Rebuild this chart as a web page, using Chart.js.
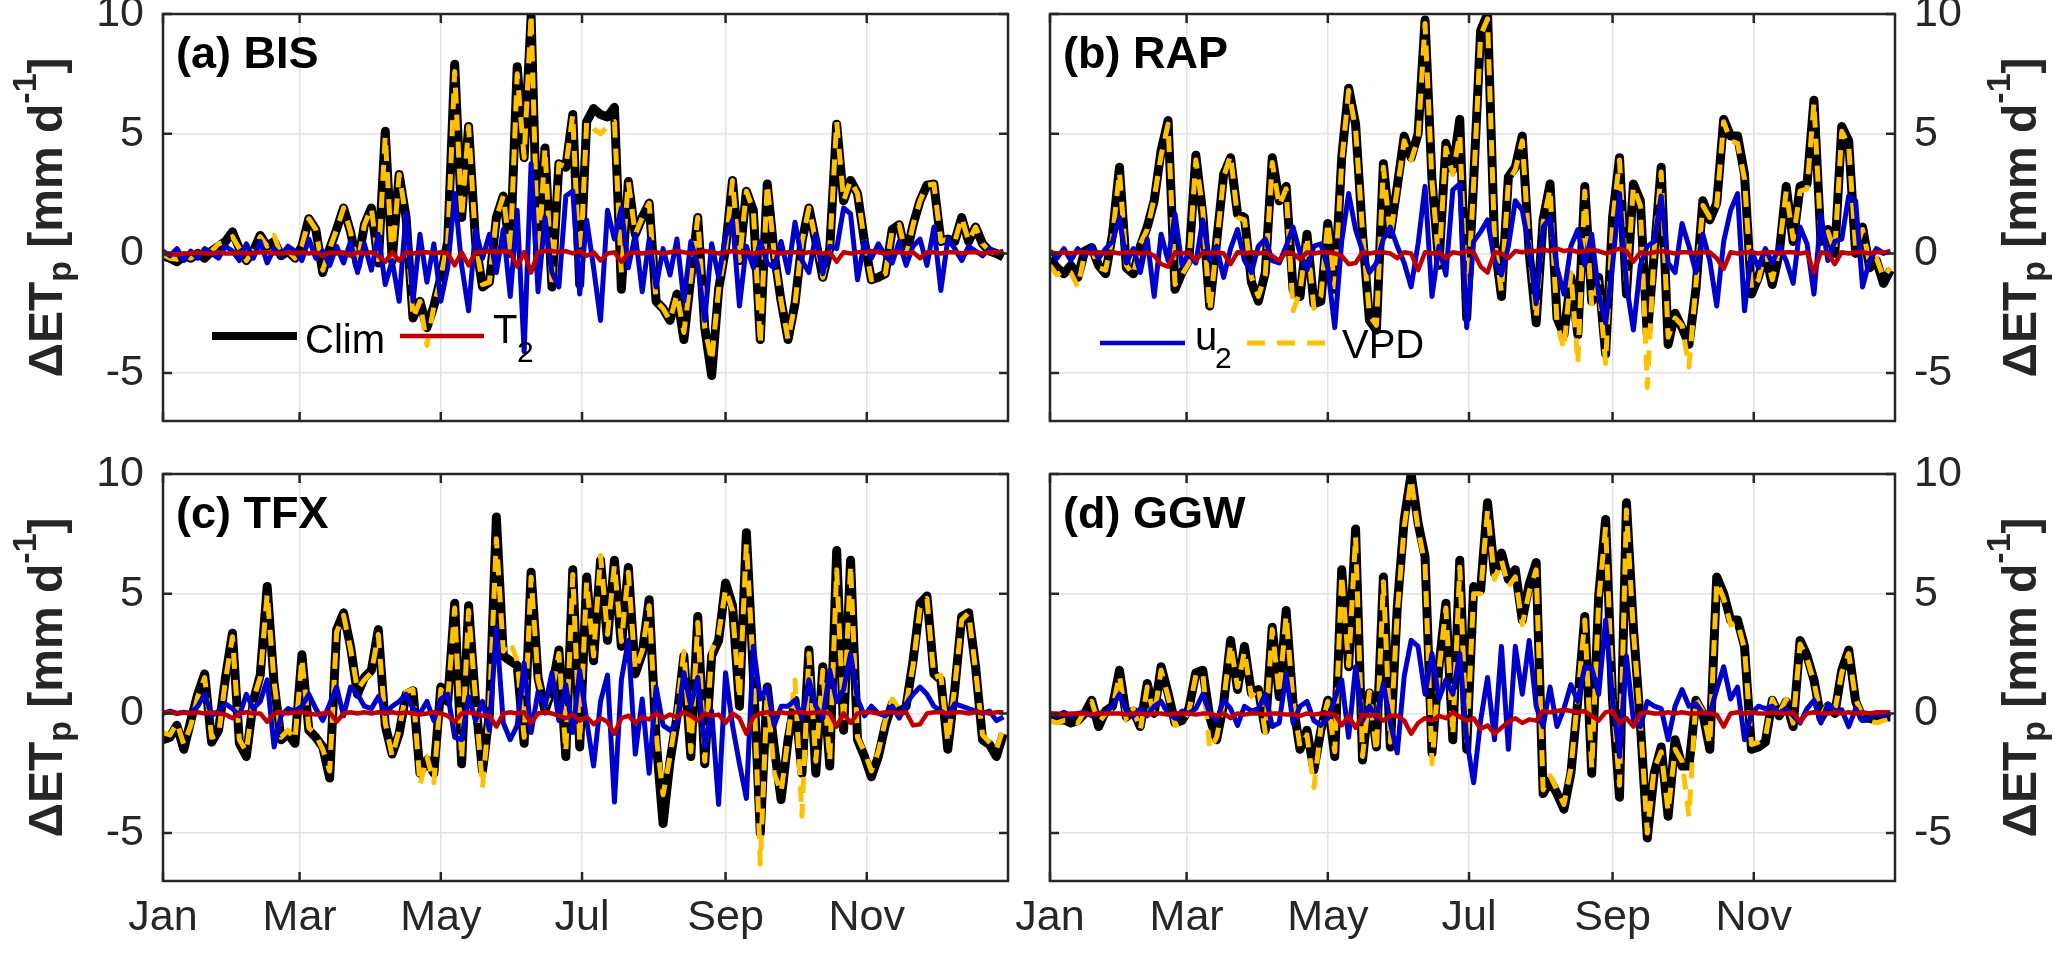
<!DOCTYPE html>
<html>
<head>
<meta charset="utf-8">
<script src="https://cdn.jsdelivr.net/npm/chart.js@4"></script>
<style>
  html, body { margin: 0; padding: 0; background: #fff; }
  #wrap { position: relative; width: 2067px; height: 953px; }
  #wrap canvas { position: absolute; left: 0; top: 0; }
</style>
</head>
<body>
<div id="wrap">
  <canvas id="panel-a" width="2067" height="953"></canvas>
  <canvas id="panel-b" width="2067" height="953"></canvas>
  <canvas id="panel-c" width="2067" height="953"></canvas>
  <canvas id="panel-d" width="2067" height="953"></canvas>
</div>
<script>
// one sample every STEP days, starting 1 Jan
const STEP = 3;
const monthTicks = [0, 59, 120, 181, 243, 304];
const monthLabels = ['Jan', 'Mar', 'May', 'Jul', 'Sep', 'Nov'];
const yTicks = [-5, 0, 5, 10];

// (a) BIS
const bisClim = [
  -0.1,-0.2,-0.35,-0.1,-0.2,0.0,-0.2,0.1,0.3,0.5,
  0.9,0.2,-0.3,0.1,0.75,0.3,0.5,-0.1,0.1,-0.2,
  0.3,1.45,1.0,-0.8,0.2,1.0,1.9,0.9,-0.5,1.2,
  1.9,-0.4,5.1,-0.3,3.3,1.5,-2.7,-2.0,-3.1,-2.2,
  -1.0,0.5,7.9,1.5,5.3,0.5,-1.4,-1.2,1.5,2.4,
  0.0,7.8,4.0,9.9,-0.6,4.4,-1.4,3.75,3.6,5.8,
  -1.3,5.5,6.05,5.8,5.7,6.1,-1.5,3.0,0.8,1.5,
  2.1,-2.0,-2.3,-2.8,-1.7,-3.6,-1.0,1.5,-3.1,-5.1,
  -1.5,0.2,3.05,-0.3,2.6,1.8,-3.6,2.9,0.0,-2.0,
  -3.6,-2.1,0.5,1.9,0.5,-1.0,0.2,5.4,2.2,3.05,
  2.5,0.5,-1.1,-1.0,-0.85,1.0,1.2,-0.1,1.2,2.2,
  2.85,2.9,0.5,0.6,0.5,1.5,0.5,1.1,0.4,0.1,
  0.0,-0.15
];
const bisVpd = [
  -0.05,-0.2,-0.25,-0.1,-0.2,0.0,-0.2,0.1,0.4,0.5,
  0.7,0.2,-0.3,0.1,0.7,0.3,0.75,-0.1,0.1,-0.2,
  0.3,1.45,1.0,-0.7,0.2,1.0,1.9,0.9,-0.5,1.2,
  1.9,-0.4,4.9,-0.3,3.3,1.5,-2.7,-2.0,-3.85,-2.2,
  -1.0,0.5,7.6,1.5,5.3,0.5,-1.3,-1.2,1.5,2.4,
  0.0,7.5,4.0,10.0,-0.6,4.4,-1.4,3.75,3.6,5.8,
  -1.1,5.5,5.2,5.0,5.3,5.5,-0.8,3.0,0.8,1.5,
  2.1,-2.0,-2.3,-2.8,-1.7,-3.3,-1.0,1.5,-3.1,-4.5,
  -1.5,0.2,3.05,-0.3,2.6,1.8,-3.8,2.9,0.0,-2.0,
  -3.6,-2.1,0.5,1.9,0.5,-1.0,0.2,5.5,2.2,3.05,
  2.5,0.5,-1.1,-1.0,-0.85,1.0,1.2,-0.1,1.2,2.2,
  2.85,2.9,0.5,0.6,0.5,1.5,0.5,1.1,0.4,0.1,
  0.0,-0.2
];
const bisU2 = [
  0.1,-0.1,0.2,-0.3,0.1,-0.2,0.2,0.0,-0.2,0.3,0.1,-0.3,0.4,-0.2,0.5,-0.4,0.2,-0.1,0.3,
  0.1,-0.3,0.6,-0.2,0.1,-0.5,0.3,-0.4,0.5,-0.8,0.4,-0.7,0.8,-1.3,-0.3,-2.0,1.7,-2.0,0.8,-1.2,0.4,-2.0,
  -0.6,2.5,-0.5,-2.4,1.0,-0.2,0.8,-0.8,1.0,-1.8,1.8,-4.1,3.75,-1.6,1.5,-0.8,
  -1.4,2.4,2.6,-1.7,1.4,-0.6,-2.8,1.8,0.6,1.9,-0.6,0.8,-1.6,0.6,-1.4,0.2,-0.9,0.6,-2.0,0.5,
  -0.5,-2.8,0.4,-1.0,0.7,1.4,-2.2,0.3,-0.6,0.5,-0.4,-0.6,
  0.5,-0.8,1.3,-0.3,-0.8,0.8,-0.85,0.3,0.2,1.9,1.65,-1.1,0.5,-0.2,0.4,-0.1,-0.4,0.5,-0.5,0.3,
  0.6,-0.5,1.1,-1.55,0.6,0.2,-0.3,0.3,0.1,-0.1,0.2,0.0,0.1
];
const bisT2 = [
  0,0,-0.05,0,0,0.05,0,0,0.05,0,0,0.05,0,0,0.05,0.05,0,0,0.05,0,0.05,0,0.05,-0.1,0.05,0,0.05,-0.1,0.05,0,0.05,
  -0.1,-0.35,0.05,-0.3,0.05,0.0,0.05,0.05,0.0,0.05,0.0,-0.5,0.05,-0.5,0.05,0.05,0.1,0.05,0.1,0.05,
  -0.55,0.05,-0.8,0.05,0.1,0.1,0.05,0.1,0.0,0.1,-0.1,0.05,-0.3,0.0,0.05,-0.35,0.0,0.05,0.0,0.05,
  0.05,0.0,0.05,0.1,0.05,0.0,0.05,0.1,0.05,0.0,0.05,0.1,0.05,0.05,0.0,0.05,0.1,0.05,0.0,0.05,
  0.05,0.0,0.05,0.05,0.0,0.05,-0.35,0.05,0.0,0.05,0.05,0.1,0.05,0.0,0.05,0.05,0.0,0.05,-0.2,
  0.05,0.05,0.0,0.05,0.05,0.0,0.05,0.05,0.0,0.05,0.05,0.05
];

// (b) RAP
const rapClim = [
  -0.2,-0.6,-0.85,-0.5,-1.0,0.1,0.25,-0.5,-0.85,0.8,
  3.6,-0.6,-0.85,0.3,1.1,2.2,4.3,5.55,-1.5,-0.8,
  -0.3,4.1,1.65,-2.2,0.5,3.3,4.0,1.65,1.5,-1.2,
  -2.0,-0.8,4.0,2.2,2.8,-1.5,-1.8,0.8,-2.1,-2.0,
  1.25,-1.5,4.0,6.9,5.4,0.8,-2.8,-3.2,3.75,0.8,
  2.8,4.9,4.0,5.0,9.75,3.05,-0.5,4.6,3.5,5.6,
  -2.7,3.05,9.3,10.0,0.5,-1.8,3.2,3.6,4.9,0.0,
  -2.9,1.4,2.9,-2.7,-3.4,-1.0,-3.4,2.8,-2.0,-1.0,
  -4.2,1.5,4.0,-1.7,2.9,2.2,-3.4,0.0,3.6,-3.8,
  -2.5,-3.1,-3.8,-1.5,2.2,1.4,2.1,5.6,4.9,4.9,
  3.3,-1.7,-1.0,0.0,-1.3,0.0,2.8,0.5,2.8,2.9,
  6.4,0.5,1.0,0.0,5.3,4.7,0.0,1.1,-0.6,-0.3,
  -1.25,-0.7
];
const rapVpd = [
  -0.5,-0.9,-0.7,-0.8,-1.4,0.0,0.2,-0.6,-0.7,0.7,
  3.4,-0.5,-0.9,0.4,1.0,2.3,4.1,5.4,-1.3,-0.9,
  -0.4,3.9,1.8,-2.4,0.4,3.2,4.1,1.5,1.4,-1.0,
  -1.8,-0.9,3.8,2.0,2.7,-2.4,-1.6,0.7,-2.3,-1.8,
  1.3,-1.4,3.8,6.8,5.2,0.9,-2.6,-3.0,3.6,0.7,
  2.7,4.7,3.9,4.8,9.6,3.0,-0.4,4.4,3.3,5.0,
  -2.5,2.9,9.1,9.8,0.6,-1.6,3.0,3.5,4.7,0.2,
  -2.7,1.3,2.7,-2.9,-4.0,-0.8,-4.6,2.6,-2.2,-1.2,
  -4.6,1.3,3.9,-1.5,2.8,2.0,-5.6,0.2,3.4,-3.5,
  -2.7,-3.0,-4.75,-1.3,2.0,1.5,2.0,5.5,4.7,4.6,
  3.1,-1.5,-1.1,0.1,-1.1,0.2,2.6,0.6,2.6,2.7,
  6.3,0.6,0.9,0.1,5.1,4.5,0.2,1.0,-0.4,-0.2,
  -1.0,-0.6
];
const rapU2 = [
  0.1,-0.2,0.2,-0.3,0.2,-0.1,0.3,-0.2,0.2,0.5,
  1.5,-0.4,0.2,-0.8,0.6,-1.8,0.8,-0.3,1.65,-0.5,
  0.0,-0.4,1.4,-0.3,0.3,-1.0,0.2,1.0,-0.3,-0.8,
  0.3,0.6,-0.3,-0.4,0.3,1.1,0.0,-0.7,0.3,0.4,
  -0.6,-3.1,0.5,2.5,1.0,0.1,-0.8,-0.4,0.6,1.1,
  0.3,-0.4,-1.4,0.4,2.8,-1.8,0.3,-0.9,2.65,2.9,
  -3.1,0.5,0.9,1.4,-0.3,-0.9,0.3,2.2,1.8,0.2,
  -2.1,1.1,1.5,-0.6,-1.7,0.3,1.0,-0.5,0.8,-1.7,
  -2.9,-0.5,2.5,-1.3,-3.2,-0.5,0.3,0.5,2.4,-0.4,
  -0.8,1.25,0.3,-0.8,0.8,-0.3,-2.2,0.5,1.8,2.5,
  -2.4,0.1,-0.6,0.2,-0.4,0.3,-0.3,-1.25,1.1,0.4,
  -1.7,1.6,-0.3,0.5,0.6,2.4,2.2,-1.4,-0.3,0.2,
  0.0,0.1
];
const rapT2 = [
  0.05,0.0,0.05,0.0,0.05,0.05,0.0,0.05,0.0,0.05,0.0,0.05,0.05,0.0,0.05,
  -0.1,-0.45,-0.55,0.05,0.0,0.05,-0.3,0.05,0.0,0.05,
  0.0,-0.45,0.05,0.0,0.05,0.0,0.05,-0.1,-0.3,0.05,
  0.0,-0.25,0.05,0.0,0.05,0.05,0.0,-0.1,-0.45,-0.4,
  0.05,0.0,0.05,0.05,0.0,-0.2,0.05,0.0,-0.7,0.05,
  0.0,0.05,-0.2,0.05,0.0,0.1,0.05,-0.55,-0.8,0.05,
  0.0,-0.2,0.1,0.05,0.1,0.1,
  0.15,0.1,0.2,0.1,0.15,0.05,0.1,0.15,0.1,0.0,
  0.1,0.2,0.1,-0.35,0.05,0.0,0.05,0.1,0.05,0.0,
  0.05,0.05,0.0,0.05,0.05,-0.2,-0.65,0.05,0.0,0.05,
  0.05,0.0,0.05,0.05,0.0,0.05,0.05,0.0,0.05,-0.8,
  0.05,0.0,-0.45,0.05,0.0,0.05,0.05,0.0,0.05,0.05,
  0.05
];

// (c) TFX
const tfxClim = [
  -1.1,-1.0,-0.5,-1.5,-0.3,0.8,1.65,-1.2,-0.7,1.5,
  3.35,-1.25,-1.8,0.5,1.6,5.3,1.25,-1.1,-0.85,-1.25,
  2.45,-0.7,-1.0,-1.4,-2.7,3.5,4.2,2.8,0.8,1.5,
  1.8,3.5,-0.5,-1.7,-0.85,0.8,0.95,-2.5,-1.95,-2.5,
  1.1,0.5,4.6,-2.1,4.5,0.5,-2.4,0.0,8.2,2.4,
  2.2,2.0,-1.25,5.9,1.5,0.1,1.0,2.65,-1.8,6.0,
  -1.4,5.7,2.2,6.4,3.05,6.4,2.8,6.1,1.65,2.5,
  4.75,-1.1,-4.6,-2.0,-0.15,2.4,-1.8,4.05,-2.1,2.4,
  3.05,5.45,4.5,0.3,7.55,1.65,-5.0,1.1,-1.4,-3.6,
  -1.1,0.55,-2.5,2.65,-2.5,1.95,-2.2,6.8,-0.7,6.4,
  -1.1,-1.8,-2.65,-1.8,-0.5,0.4,0.0,0.3,2.2,4.6,
  4.9,1.65,1.4,-1.5,1.0,4.05,4.2,1.95,-1.1,-1.3,
  -1.8,-0.85
];
const tfxVpd = [
  -0.8,-0.9,-0.4,-1.3,-0.5,0.7,1.5,-1.0,-0.9,1.4,
  3.2,-1.1,-1.6,0.6,1.5,5.0,1.3,-1.0,-0.7,-1.1,
  2.3,-0.6,-0.9,-1.5,-2.4,3.4,4.1,2.7,1.0,1.4,
  1.7,3.3,-0.4,-1.8,-0.7,0.9,1.0,-3.0,-1.8,-2.9,
  1.0,0.6,4.4,-1.9,4.3,0.6,-3.1,0.2,7.3,2.6,
  3.0,2.2,-1.0,5.7,1.4,0.3,0.9,2.5,-1.6,5.8,
  -1.2,5.5,2.4,6.6,3.3,6.2,3.0,5.9,1.8,2.6,
  4.5,-0.9,-3.4,-1.8,0.1,2.6,-1.6,3.8,-2.0,2.6,
  3.3,5.2,4.3,0.6,7.1,1.8,-6.3,1.0,-2.5,-3.3,
  -1.0,1.4,-4.3,2.5,-2.0,1.8,-2.0,6.0,-0.5,6.2,
  -1.0,-1.6,-2.4,-1.6,-0.3,0.6,0.2,0.4,2.0,4.4,
  4.8,1.5,1.6,-1.2,1.1,3.9,4.2,1.8,-0.9,-1.2,
  -1.5,-0.6
];
const tfxU2 = [
  0.0,0.1,0.0,0.05,0.0,0.3,0.8,-0.1,0.1,0.4,
  0.2,-0.1,0.8,0.2,0.5,1.4,-1.4,-0.1,0.2,0.1,
  0.3,0.8,0.2,-0.3,0.4,1.1,-0.1,1.1,0.8,0.3,
  0.2,0.7,0.0,0.3,0.5,0.8,0.2,0.0,0.5,-0.3,
  0.6,0.8,-1.0,-1.1,0.7,-0.3,0.5,-0.7,3.6,-0.4,
  -1.1,-0.5,2.1,-0.8,0.9,0.3,1.7,-0.3,1.2,-0.8,
  1.8,-0.3,-2.2,0.5,1.6,-3.7,1.4,3.05,-1.7,0.6,
  -2.5,1.1,-0.5,-0.7,-0.4,1.7,0.3,1.5,-1.4,0.1,
  -3.8,1.7,-0.5,-2.1,-3.55,2.8,0.6,1.1,-0.5,0.3,
  0.3,0.55,-0.2,1.4,0.3,-0.2,1.8,0.5,1.0,2.5,
  0.6,-0.1,0.3,0.0,-0.1,0.3,-0.2,0.4,0.8,1.1,
  0.8,0.3,0.1,-0.1,0.4,0.3,0.2,0.1,0.0,0.1,
  -0.3,-0.15
];
const tfxT2 = [
  0.05,0.05,0.0,0.05,0.0,0.05,0.0,0.05,0.0,-0.05,
  -0.2,0.0,0.05,0.0,0.0,-0.35,0.0,0.05,0.0,0.05,
  0.05,0.0,-0.05,0.0,0.05,-0.35,0.0,0.05,0.0,0.05,
  0.0,0.05,0.0,0.05,0.0,0.05,0.0,-0.05,0.0,0.05,
  0.0,-0.1,-0.35,0.0,0.05,0.0,-0.1,-0.1,-0.55,0.0,
  0.05,0.0,0.05,-0.4,0.0,0.05,0.0,-0.1,-0.2,-0.05,
  -0.3,-0.15,-0.45,-0.2,-0.35,-0.85,-0.2,-0.1,-0.4,-0.15,
  -0.25,0.0,-0.2,-0.05,-0.15,0.05,-0.1,-0.3,0.0,-0.1,
  -0.05,-0.4,0.0,-0.2,-0.85,-0.15,0.0,0.05,0.0,0.05,
  0.0,0.05,0.05,0.0,0.05,0.05,0.0,-0.55,0.0,-0.4,
  0.0,0.05,0.05,0.0,0.05,0.05,0.0,0.05,-0.5,-0.45,
  0.0,0.05,0.05,0.0,0.05,0.05,0.0,0.05,0.05,0.0,
  0.05,0.05
];

// (d) GGW
const ggwClim = [
  -0.2,-0.3,-0.25,-0.4,-0.3,0.0,0.55,-0.55,0.1,0.3,
  1.8,-0.15,0.1,-0.55,1.25,0.0,1.95,0.85,-0.4,-0.3,
  0.2,1.7,1.8,-0.15,-1.1,0.4,3.05,1.0,2.8,0.85,
  1.0,-0.7,3.6,0.7,4.3,0.4,-1.5,-0.7,-2.35,-0.7,
  0.55,-1.8,6.0,1.95,7.7,-1.95,0.85,-1.4,5.7,-1.4,
  4.45,8.1,10.0,7.95,6.55,-1.65,1.95,4.6,-1.1,6.4,
  -1.5,5.3,5.15,8.8,5.85,6.7,5.6,6.0,3.9,5.4,
  6.3,-3.35,-2.8,-3.35,-4.0,-2.5,0.55,4.05,-2.5,4.9,
  8.1,0.55,-3.5,8.8,3.6,-0.4,-5.2,-2.5,-1.4,-4.3,
  -1.1,-2.2,-2.2,0.55,0.0,-1.5,5.7,5.0,3.9,3.9,
  2.8,-1.5,-1.4,-1.2,0.55,-0.1,0.5,-0.55,3.05,2.4,
  1.4,-0.2,0.3,0.0,1.8,2.65,0.5,-0.2,-0.2,-0.3,
  -0.15,-0.15
];
const ggwVpd = [
  -0.3,-0.4,-0.3,-0.3,-0.4,0.1,0.5,-0.4,0.0,0.2,
  1.6,-0.3,0.2,-0.7,1.1,-0.1,1.8,0.7,-0.5,-0.4,
  0.1,1.6,1.7,-1.5,-1.0,0.5,2.9,1.1,2.6,0.7,
  1.1,-0.8,3.5,0.8,4.1,0.5,-1.4,-0.9,-3.1,-0.6,
  0.5,-1.6,5.8,2.0,7.4,-1.8,0.9,-1.6,5.5,-1.2,
  4.2,7.8,9.8,7.7,6.2,-2.1,1.8,4.4,-0.9,6.1,
  -1.3,5.0,5.0,8.5,5.6,6.4,5.3,5.7,3.7,5.1,
  6.0,-3.2,-2.6,-3.2,-3.8,-2.3,0.7,3.9,-2.3,4.7,
  7.8,0.7,-3.0,8.5,3.4,-0.3,-5.0,-2.3,-1.6,-4.1,
  -1.5,-2.0,-4.3,0.6,0.1,-1.3,5.5,4.8,3.7,3.8,
  2.7,-1.3,-1.2,-1.0,0.6,0.0,0.6,-0.4,2.9,2.3,
  1.3,-0.1,0.4,0.1,1.7,2.5,0.6,-0.1,-0.3,-0.4,
  -0.3,-0.2
];
const ggwU2 = [
  0.0,-0.1,0.05,-0.1,0.0,0.05,-0.1,0.0,0.05,0.3,
  0.8,0.1,-0.1,0.2,-0.1,0.3,0.5,0.0,-0.2,0.1,
  0.0,0.2,0.8,0.0,-0.3,0.55,0.2,-0.5,0.3,0.1,
  0.2,0.8,-0.55,-0.4,1.65,-0.4,0.3,0.5,-0.3,-0.5,
  -0.2,0.6,1.4,-1.0,1.95,-0.3,0.3,-0.2,1.25,-0.4,
  -1.65,1.55,3.05,2.8,0.8,2.5,0.6,1.4,0.8,2.5,
  -1.1,-2.9,-0.3,1.5,-1.1,2.8,-1.5,2.8,0.8,3.05,
  0.3,-0.55,1.1,-0.55,0.2,1.2,0.5,1.95,1.9,0.8,
  3.9,0.6,-1.8,2.4,-0.3,-0.55,0.5,0.3,0.2,-1.1,
  0.3,1.0,0.3,0.4,0.0,0.0,1.0,1.95,0.6,1.1,
  -1.1,0.0,0.3,0.2,0.3,0.0,0.2,-0.1,-0.4,0.2,
  0.55,-0.4,0.4,0.1,0.15,-0.55,0.2,-0.3,-0.2,0.0,
  -0.1,0.0
];
const ggwT2 = [
  0.0,0.0,-0.05,0.0,0.0,0.0,-0.05,0.0,0.0,0.0,
  0.0,-0.05,0.0,0.0,-0.05,0.0,0.0,-0.05,0.0,0.0,
  0.0,-0.05,0.0,0.0,-0.1,0.0,-0.2,0.0,-0.05,0.0,
  0.0,-0.05,0.0,0.0,-0.05,-0.05,-0.1,0.0,-0.05,0.0,
  0.0,-0.05,-0.5,-0.1,-0.6,-0.05,-0.1,-0.05,-0.3,-0.1,
  -0.1,-0.3,-0.85,-0.4,-0.2,-0.3,-0.1,-0.2,0.05,-0.15,
  -0.3,-0.2,-0.65,-0.5,-0.85,-0.6,-0.35,-0.2,-0.4,-0.25,
  -0.3,0.1,0.05,0.1,0.15,0.1,0.05,0.1,-0.1,-0.3,
  0.05,0.1,-0.4,-0.2,-0.55,0.0,0.05,0.0,0.0,0.05,
  0.0,0.05,0.0,0.0,0.05,0.0,-0.05,-0.55,0.0,0.05,
  0.0,0.05,0.0,0.0,0.05,0.0,0.0,0.05,-0.35,0.0,
  0.05,0.0,0.0,0.05,0.0,0.05,0.0,0.05,0.0,0.05,
  0.05,0.05
];

const FONT = '"Liberation Sans", Arial, Helvetica, sans-serif';
const TXT = '#262626';
const GRID = '#e2e2e2';
const BLACK = '#000000';
const RED = '#c00000';
const BLUE = '#0000cc';
const YELLOW = '#ffc000';
const W = 2067, H = 953;
const AXIS_W = 140;

const toPoints = (arr) => arr.map((v, i) => ({ x: i * STEP, y: v }));

// rotated y title with sub/superscript
const drawYTitle = (ctx, xBase, yMid) => {
    const parts = [
        { t: '\u0394ET', size: 48, dy: 0 },
        { t: 'p', size: 34, dy: 9 },
        { t: ' [mm d', size: 48, dy: 0 },
        { t: '-1', size: 34, dy: -26 },
        { t: ']', size: 48, dy: 0 }
    ];
    let total = 0;
    parts.forEach(p => {
        ctx.font = `bold ${p.size}px ${FONT}`;
        p.w = ctx.measureText(p.t).width;
        total += p.w;
    });
    ctx.save();
    ctx.translate(xBase, yMid);
    ctx.rotate(-Math.PI / 2);
    ctx.fillStyle = TXT;
    ctx.textAlign = 'left';
    ctx.textBaseline = 'alphabetic';
    let x = -total / 2;
    parts.forEach(p => {
        ctx.font = `bold ${p.size}px ${FONT}`;
        ctx.fillText(p.t, x, p.dy);
        x += p.w;
    });
    ctx.restore();
};

const drawLegendLine = (ctx, x0, x1, y, color, width, dash) => {
    ctx.save();
    ctx.strokeStyle = color;
    ctx.lineWidth = width;
    ctx.setLineDash(dash || []);
    ctx.beginPath();
    ctx.moveTo(x0, y);
    ctx.lineTo(x1, y);
    ctx.stroke();
    ctx.restore();
};

const drawText = (ctx, text, x, y, size) => {
    ctx.font = `${size}px ${FONT}`;
    ctx.fillStyle = BLACK;
    ctx.textAlign = 'left';
    ctx.textBaseline = 'alphabetic';
    ctx.fillText(text, x, y);
};

const panelDecor = {
    id: 'panelDecor',
    afterDatasetsDraw(chart, args, opts) {
        const ctx = chart.ctx;
        const a = chart.chartArea;
        if (opts.legend === 'left') {
            drawLegendLine(ctx, a.left + 49, a.left + 134, a.top + 322, BLACK, 8);
            drawText(ctx, 'Clim', a.left + 142, a.top + 339, 40);
            drawLegendLine(ctx, a.left + 237, a.left + 321, a.top + 322, RED, 4.5);
            drawText(ctx, 'T', a.left + 330, a.top + 329, 40);
            drawText(ctx, '2', a.left + 354, a.top + 348, 30);
        } else if (opts.legend === 'right') {
            drawLegendLine(ctx, a.left + 50, a.left + 135, a.top + 329, BLUE, 4.5);
            drawText(ctx, 'u', a.left + 145, a.top + 336, 40);
            drawText(ctx, '2', a.left + 165, a.top + 354, 30);
            drawLegendLine(ctx, a.left + 197, a.left + 280, a.top + 329, YELLOW, 5, [18, 12]);
            drawText(ctx, 'VPD', a.left + 292, a.top + 344, 40);
        }
    },
    afterDraw(chart, args, opts) {
        const ctx = chart.ctx;
        const a = chart.chartArea;
        const x = chart.scales.x;
        const y = chart.scales.y;
        ctx.save();
        ctx.strokeStyle = TXT;
        ctx.lineWidth = 2.5;
        ctx.beginPath();
        monthTicks.forEach(v => {
            const px = x.getPixelForValue(v);
            ctx.moveTo(px, a.bottom); ctx.lineTo(px, a.bottom - 9);
            ctx.moveTo(px, a.top); ctx.lineTo(px, a.top + 9);
        });
        yTicks.forEach(v => {
            const py = y.getPixelForValue(v);
            ctx.moveTo(a.left, py); ctx.lineTo(a.left + 9, py);
            ctx.moveTo(a.right, py); ctx.lineTo(a.right - 9, py);
        });
        ctx.stroke();
        ctx.strokeRect(a.left, a.top, a.right - a.left, a.bottom - a.top);

        // panel label
        ctx.font = `bold 45px ${FONT}`;
        ctx.fillStyle = BLACK;
        ctx.textAlign = 'left';
        ctx.textBaseline = 'alphabetic';
        ctx.fillText(opts.label, a.left + 13, a.top + 54);
        ctx.restore();

        const mid = (a.top + a.bottom) / 2;
        if (opts.side === 'left') drawYTitle(ctx, 62, mid);
        else drawYTitle(ctx, 2036, mid);
    }
};

const makePanel = (id, p) => {
    const xh = p.xLabels ? 60 : 10;
    const padding = p.side === 'left'
        ? { left: p.area.l - AXIS_W, right: W - p.area.r, top: p.area.t, bottom: H - p.area.b - xh }
        : { left: p.area.l, right: W - p.area.r - AXIS_W, top: p.area.t, bottom: H - p.area.b - xh };

    return new Chart(document.getElementById(id), {
        type: 'line',
        data: {
            datasets: [
                { label: 'T2', data: toPoints(p.t2), borderColor: RED, borderWidth: 4.5, clip: 0 },
                { label: 'u2', data: toPoints(p.u2), borderColor: BLUE, borderWidth: 5, clip: 0 },
                { label: 'VPD', data: toPoints(p.vpd), borderColor: YELLOW, borderWidth: 5, borderDash: [16, 11], clip: 0 },
                { label: 'Clim', data: toPoints(p.clim), borderColor: BLACK, borderWidth: 9, clip: 0 }
            ]
        },
        options: {
            responsive: false,
            animation: false,
            devicePixelRatio: 1,
            layout: { padding: padding },
            elements: {
                point: { radius: 0 },
                line: { tension: 0, borderJoinStyle: 'round', borderCapStyle: 'butt', fill: false }
            },
            plugins: {
                legend: { display: false },
                tooltip: { enabled: false },
                panelDecor: { label: p.label, side: p.side, legend: p.legend }
            },
            scales: {
                x: {
                    type: 'linear',
                    min: 0,
                    max: 365,
                    afterBuildTicks: s => { s.ticks = monthTicks.map(v => ({ value: v })); },
                    afterFit: s => { s.height = xh; s.paddingLeft = 0; s.paddingRight = 0; },
                    grid: { color: GRID, lineWidth: 1.5, drawTicks: false },
                    border: { display: false },
                    ticks: {
                        display: p.xLabels,
                        autoSkip: false,
                        maxRotation: 0,
                        padding: 11,
                        color: TXT,
                        font: { size: 43, family: FONT },
                        callback: v => monthLabels[monthTicks.indexOf(v)]
                    }
                },
                y: {
                    type: 'linear',
                    position: p.side,
                    min: -7,
                    max: 10,
                    afterBuildTicks: s => { s.ticks = yTicks.map(v => ({ value: v })); },
                    afterFit: s => { s.width = AXIS_W; s.paddingTop = 0; s.paddingBottom = 0; },
                    grid: { color: GRID, lineWidth: 1.5, drawTicks: false },
                    border: { display: false },
                    ticks: {
                        padding: 19,
                        color: TXT,
                        font: { size: 43, family: FONT }
                    }
                }
            }
        },
        plugins: [panelDecor]
    });
};

makePanel('panel-a', {
    label: '(a) BIS', side: 'left', xLabels: false, legend: 'left',
    area: { l: 163, t: 14, r: 1008, b: 421 },
    clim: bisClim, vpd: bisVpd, u2: bisU2, t2: bisT2
});
makePanel('panel-b', {
    label: '(b) RAP', side: 'right', xLabels: false, legend: 'right',
    area: { l: 1050, t: 14, r: 1895, b: 421 },
    clim: rapClim, vpd: rapVpd, u2: rapU2, t2: rapT2
});
makePanel('panel-c', {
    label: '(c) TFX', side: 'left', xLabels: true, legend: null,
    area: { l: 163, t: 474, r: 1008, b: 881 },
    clim: tfxClim, vpd: tfxVpd, u2: tfxU2, t2: tfxT2
});
makePanel('panel-d', {
    label: '(d) GGW', side: 'right', xLabels: true, legend: null,
    area: { l: 1050, t: 474, r: 1895, b: 881 },
    clim: ggwClim, vpd: ggwVpd, u2: ggwU2, t2: ggwT2
});
</script>
</body>
</html>
